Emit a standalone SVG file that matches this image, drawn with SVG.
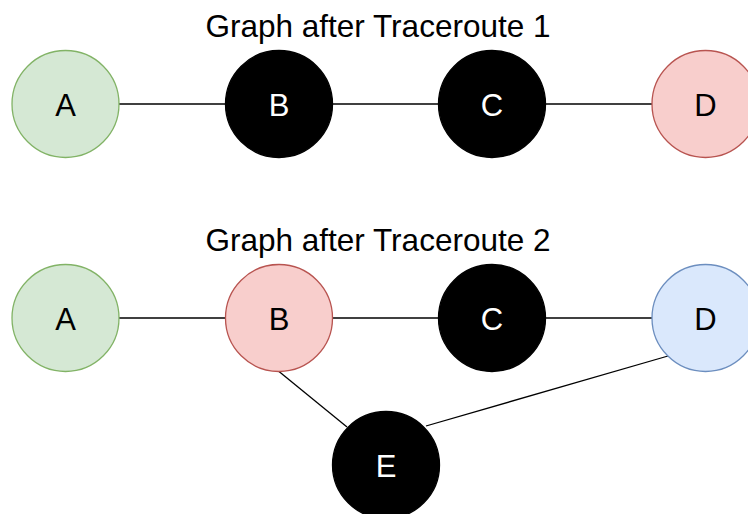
<svg xmlns="http://www.w3.org/2000/svg" width="748" height="514" viewBox="0 0 748 514">
<style>
text{font-family:"Liberation Sans",Arial,sans-serif;text-anchor:middle}
.t{font-size:31.5px;fill:#000}
.l{font-size:31px}
.g{fill:#d5e8d4;stroke:#82b366;stroke-width:1.3}
.r{fill:#f8cecc;stroke:#b85450;stroke-width:1.3}
.b{fill:#dae8fc;stroke:#6c8ebf;stroke-width:1.3}
.k{fill:#000;stroke:#000;stroke-width:1.3}
.dk{fill:#000}
.wt{fill:#fff}
.e line{stroke:#000;stroke-width:1.3}
</style>
<rect width="748" height="514" fill="#fff"/>
<text class="t" x="378" y="37">Graph after Traceroute 1</text>
<text class="t" x="378" y="251">Graph after Traceroute 2</text>
<g id="edges" class="e">
<line x1="119" y1="104" x2="225.5" y2="104"/>
<line x1="332.5" y1="104" x2="438.5" y2="104"/>
<line x1="545.5" y1="104" x2="652" y2="104"/>
<line x1="119" y1="318" x2="225.5" y2="318"/>
<line x1="332.5" y1="318" x2="438.5" y2="318"/>
<line x1="545.5" y1="318" x2="652" y2="318"/>
<line x1="279" y1="371.5" x2="347" y2="427"/>
<line x1="426" y1="426" x2="668" y2="356"/>
</g>
<g id="A1"><circle class="g" cx="65.5" cy="104" r="53.5"/><text class="l dk" x="65.5" y="115.5">A</text></g>
<g id="B1"><circle class="k" cx="279" cy="104" r="53.5"/><text class="l wt" x="279" y="115.5">B</text></g>
<g id="C1"><circle class="k" cx="492" cy="104" r="53.5"/><text class="l wt" x="492" y="115.5">C</text></g>
<g id="D1"><circle class="r" cx="705.5" cy="104" r="53.5"/><text class="l dk" x="705.5" y="115.5">D</text></g>
<g id="A2"><circle class="g" cx="65.5" cy="318" r="53.5"/><text class="l dk" x="65.5" y="329.5">A</text></g>
<g id="B2"><circle class="r" cx="279" cy="318" r="53.5"/><text class="l dk" x="279" y="329.5">B</text></g>
<g id="C2"><circle class="k" cx="492" cy="318" r="53.5"/><text class="l wt" x="492" y="329.5">C</text></g>
<g id="D2"><circle class="b" cx="705.5" cy="318" r="53.5"/><text class="l dk" x="705.5" y="329.5">D</text></g>
<g id="E2"><circle class="k" cx="386" cy="465" r="53.5"/><text class="l wt" x="386" y="476.5">E</text></g>
</svg>
